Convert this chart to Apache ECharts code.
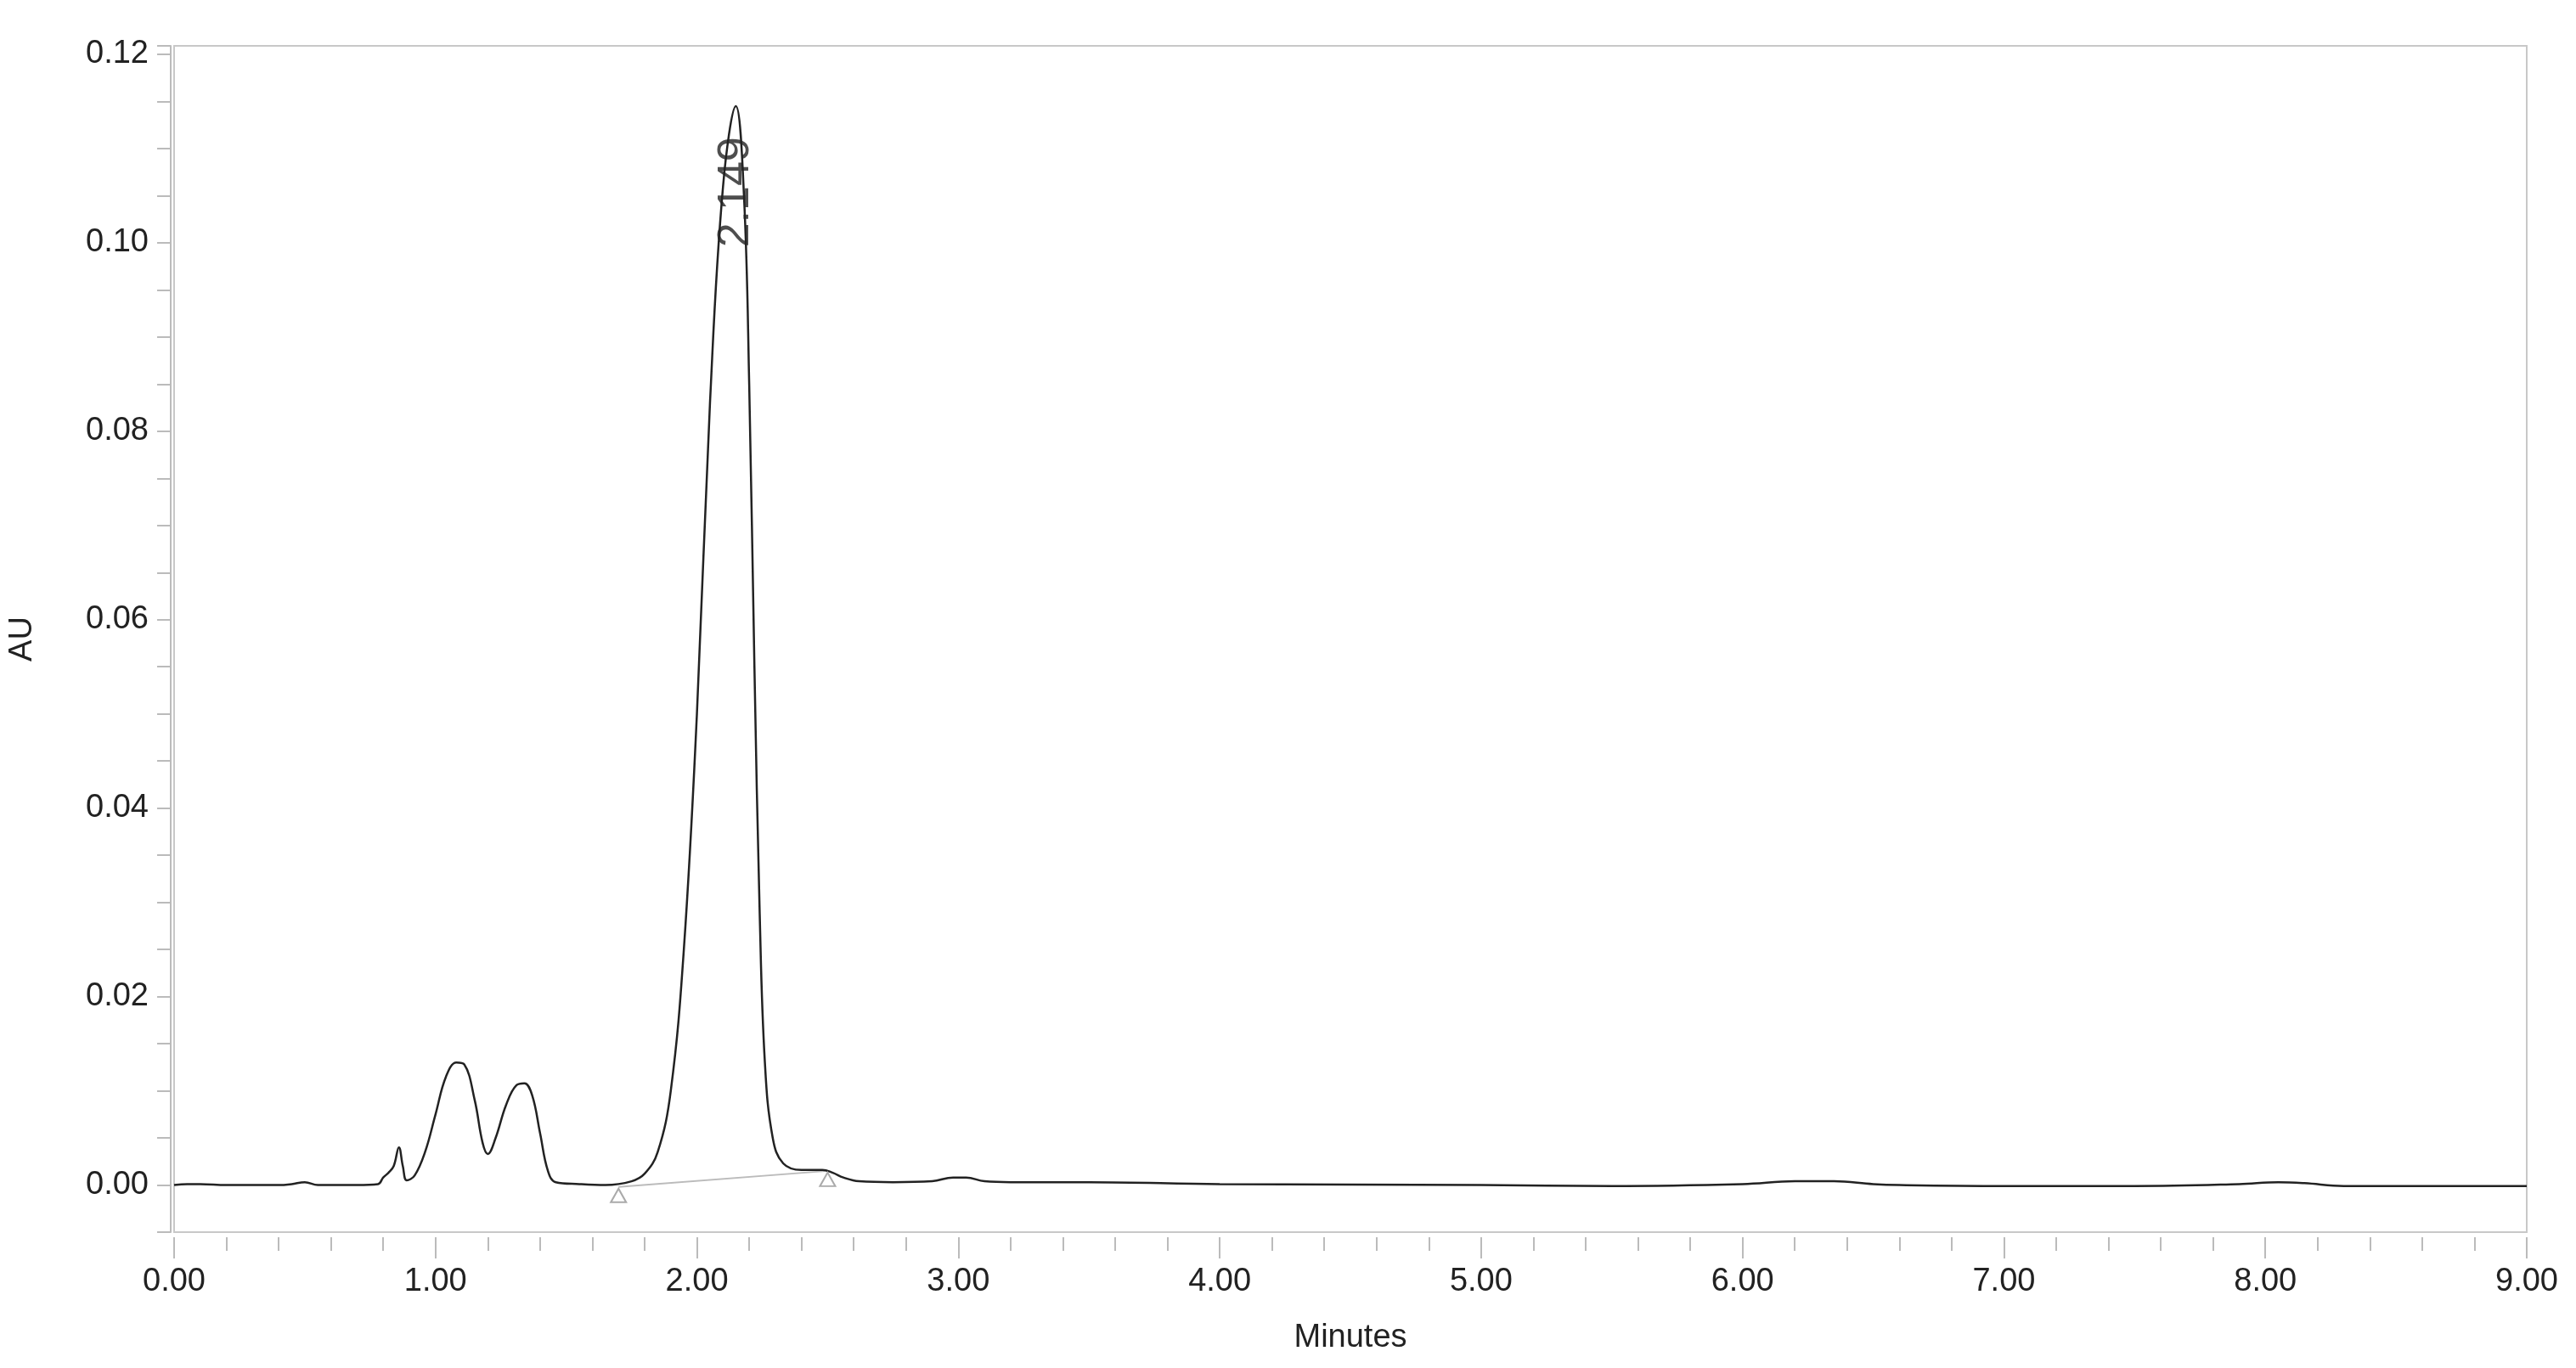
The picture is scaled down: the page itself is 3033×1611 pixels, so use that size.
<!DOCTYPE html>
<html>
<head>
<meta charset="utf-8">
<style>
	*{margin:0;padding:0;}
	#chart{width:3033px;height:1611px;background:#fff;}
</style>
</head>
<body>
<div id="chart"></div>
<script src="https://cdn.jsdelivr.net/npm/echarts@6/dist/echarts.min.js"></script>
<script>
// retention time (min) / absorbance (AU)
var times = [0.00,0.05,0.10,0.20,0.30,0.40,0.45,0.50,0.55,0.70,0.78,0.80,0.82,0.84,0.86,0.875,0.89,0.92,0.96,1.00,1.04,1.08,1.11,1.15,1.18,1.20,1.23,1.27,1.31,1.34,1.37,1.40,1.43,1.46,1.55,1.65,1.75,1.80,1.85,1.90,1.95,2.00,2.05,2.10,2.149,2.18,2.20,2.22,2.24,2.26,2.29,2.33,2.40,2.48,2.52,2.56,2.62,2.75,2.90,2.98,3.03,3.10,3.20,3.50,4.00,5.00,5.50,6.00,6.20,6.35,6.50,6.60,7.00,7.50,7.90,8.05,8.15,8.30,9.00];
var au = [0.0000,0.0001,0.0001,0.0000,0.0000,0.0000,0.0001,0.0003,0.0000,0.0000,0.0001,0.0008,0.0013,0.0020,0.0040,0.0020,0.0005,0.0010,0.0035,0.0075,0.0115,0.0130,0.0128,0.0090,0.0045,0.0033,0.0050,0.0085,0.0106,0.0108,0.0095,0.0055,0.0015,0.0003,0.0001,0.0000,0.0004,0.0012,0.0035,0.0100,0.0250,0.0500,0.0830,0.1060,0.1145,0.1050,0.0850,0.0550,0.0290,0.0130,0.0050,0.0023,0.0016,0.0016,0.0013,0.0008,0.0004,0.0003,0.0004,0.0008,0.0008,0.0004,0.0003,0.0003,0.0001,0.0000,-0.0001,0.0001,0.0004,0.0004,0.0001,0.0000,-0.0001,-0.0001,0.0001,0.0003,0.0002,-0.0001,-0.0001];
var baselineTimes = [1.70, 2.50];
var baselineAU = [-0.0002, 0.0015];
var peakTime = 2.149;
var peakLabelAU = 0.1125;
var xTicks = [0, 9, 1];        // min, max, step
var yTicks = [-0.005, 0.12, 0.005, 0.02]; // min, max, tick step, label step

var chart = echarts.init(document.getElementById('chart'));
var trace = times.map(function(t, i){ return [t, au[i]]; });
var baseline = baselineTimes.map(function(t, i){ return [t, baselineAU[i]]; });

chart.setOption({
	animation: false,
	textStyle: {fontFamily: 'Liberation Sans'},
	grid: {left: 200, right: 58, top: 54, bottom: 160, show: true, borderColor: '#c8c8c8', borderWidth: 2},
	xAxis: {
		type: 'value', min: xTicks[0], max: xTicks[1], interval: xTicks[2],
		offset: 6,
		name: 'Minutes', nameLocation: 'middle', nameGap: 100,
		nameTextStyle: {fontSize: 38, color: '#222'},
		axisLine: {show: false, onZero: false},
		axisTick: {show: true, length: 25, lineStyle: {color: '#bbb', width: 2}},
		minorTick: {show: true, splitNumber: 5, length: 16, lineStyle: {color: '#bbb', width: 2}},
		axisLabel: {fontSize: 38, color: '#222', margin: 34, formatter: function(v){ return v.toFixed(2); }},
		splitLine: {show: false}
	},
	yAxis: {
		type: 'value', min: yTicks[0], max: 0.1209, interval: yTicks[2],
		name: 'AU', nameLocation: 'middle', nameGap: 155,
		nameTextStyle: {fontSize: 38, color: '#222'},
		offset: 4,
		axisLine: {show: true, onZero: false, lineStyle: {color: '#bbb', width: 2}},
		axisTick: {show: true, length: 16, lineStyle: {color: '#bbb', width: 2}},
		axisLabel: {fontSize: 38, color: '#222', margin: 26, showMaxLabel: true,
			formatter: function(v){
				var k = v / yTicks[3];
				return Math.abs(k - Math.round(k)) < 1e-6 ? v.toFixed(2) : '';
			}},
		splitLine: {show: false}
	},
	series: [{
		type: 'line', data: baseline, symbol: 'triangle', symbolSize: [18, 16], symbolOffset: [0, 10],
		lineStyle: {color: '#bbb', width: 2},
		itemStyle: {color: '#fff', borderColor: '#aaa', borderWidth: 2}
	}, {
		type: 'line', data: trace, smooth: 0.4, showSymbol: false,
		lineStyle: {color: '#222', width: 2.5}
	}, {
		type: 'scatter', data: [[peakTime, peakLabelAU]], symbolSize: 0,
		label: {show: true, formatter: String(peakTime), position: 'inside', rotate: 90,
			align: 'right', verticalAlign: 'middle', offset: [-14, 0], fontSize: 52, color: '#222'}
	}]
});
</script>
</body>
</html>
